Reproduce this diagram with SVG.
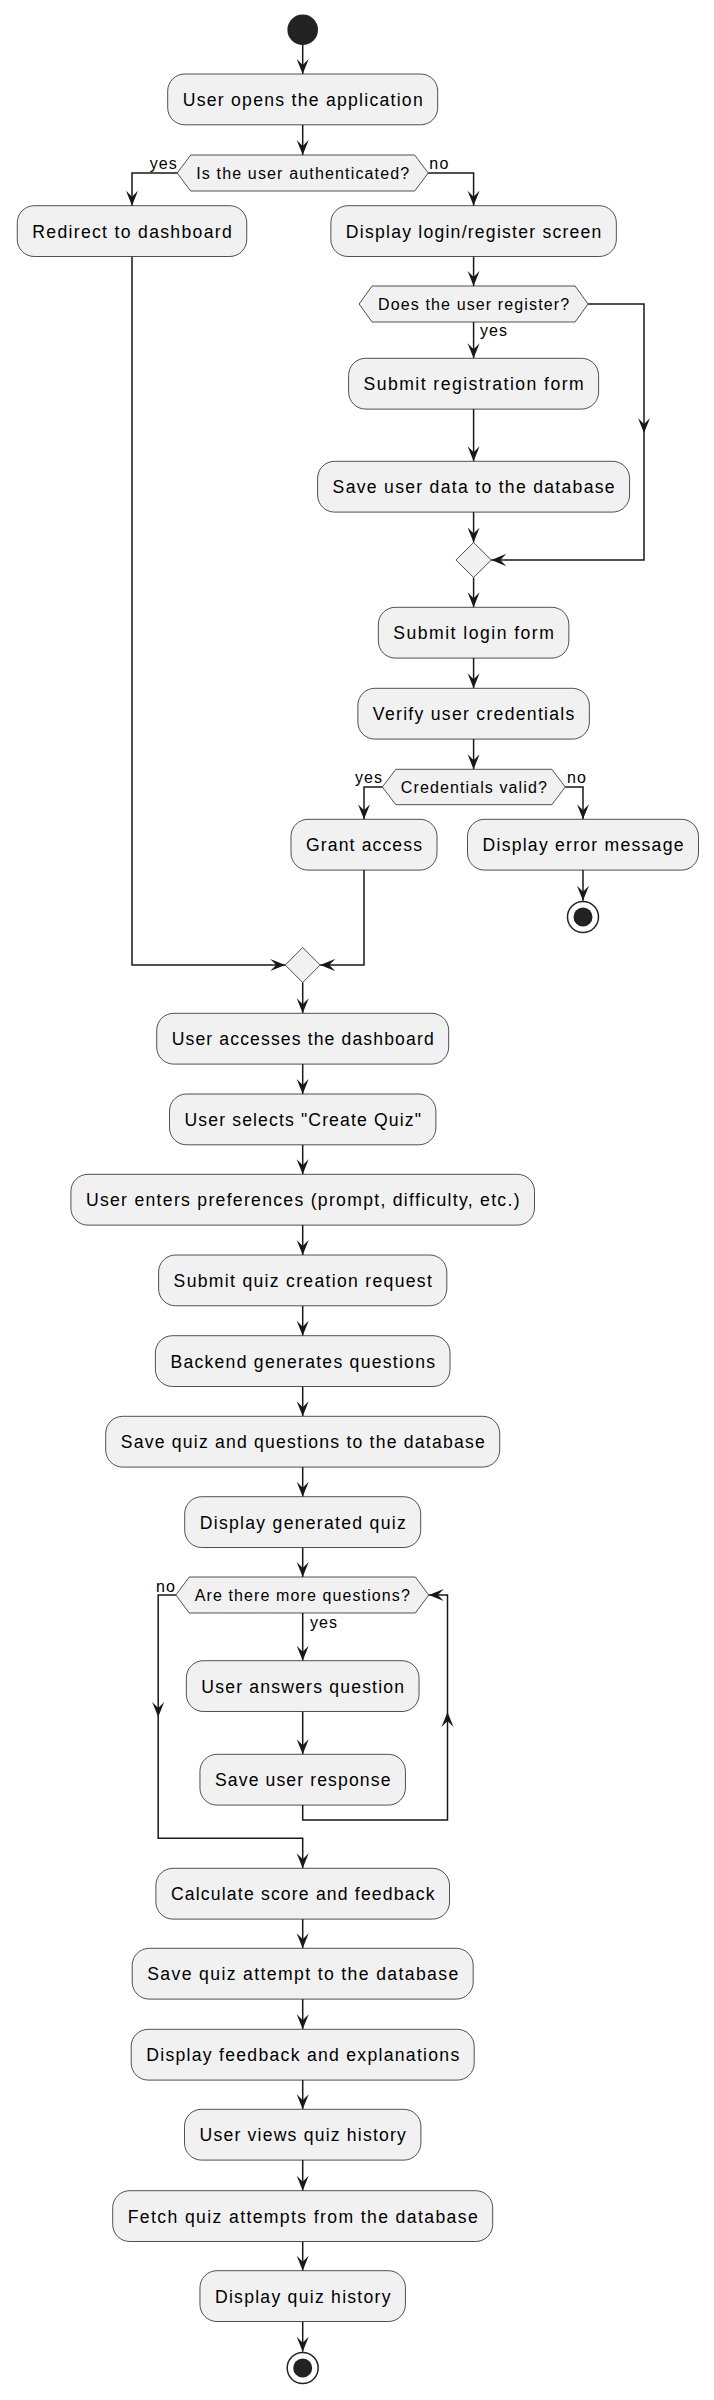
<svg xmlns="http://www.w3.org/2000/svg" width="714" height="2400" viewBox="0 0 714 2400">
<style>
.box{fill:#F1F1F1;stroke:#181818;stroke-width:0.75}
.hex{fill:#F1F1F1;stroke:#181818;stroke-width:0.75}
.t{font-family:"Liberation Sans",Arial,sans-serif;font-size:17.6px;fill:#000;text-anchor:middle}
.dt{font-family:"Liberation Sans",Arial,sans-serif;font-size:16px;fill:#000;text-anchor:middle}
.lb{font-family:"Liberation Sans",Arial,sans-serif;font-size:16px;fill:#000}
.e{fill:none;stroke:#181818;stroke-width:1.5}
.ah{fill:#181818}
</style>
<defs>
<marker id="arr" viewBox="0 -7 16 14" refX="15" refY="0" markerWidth="16" markerHeight="14" markerUnits="userSpaceOnUse" orient="auto">
<polygon points="0,-6 15,0 0,6 6,0" fill="#181818"/>
</marker>
</defs>
<rect width="714" height="2400" fill="#FFFFFF"/>

<g id="connectors">
<path class="e" d="M302.7,45 V74" marker-end="url(#arr)"/>
<path class="e" d="M302.7,125 V155" marker-end="url(#arr)"/>
<path class="e" d="M177.2,173 H132 V205.7" marker-end="url(#arr)"/>
<path class="e" d="M428.2,173 H473.6 V205.7" marker-end="url(#arr)"/>
<path class="e" d="M473.6,256.5 V286" marker-end="url(#arr)"/>
<path class="e" d="M473.6,322 V358.3" marker-end="url(#arr)"/>
<path class="e" d="M588.1,304 H644 V560 H491.3" marker-end="url(#arr)"/>
<polygon class="ah" points="638,418 644,433 650,418 644,424"/>
<path class="e" d="M473.6,409.1 V461.3" marker-end="url(#arr)"/>
<path class="e" d="M473.6,512.1 V542.5" marker-end="url(#arr)"/>
<path class="e" d="M473.6,577.5 V607.3" marker-end="url(#arr)"/>
<path class="e" d="M473.6,658.1 V688.3" marker-end="url(#arr)"/>
<path class="e" d="M473.6,739.1 V769.3" marker-end="url(#arr)"/>
<path class="e" d="M382.3,787 H364 V819.3" marker-end="url(#arr)"/>
<path class="e" d="M565.3,787 H583 V819.3" marker-end="url(#arr)"/>
<path class="e" d="M583,870.1 V900.7" marker-end="url(#arr)"/>
<path class="e" d="M364,870.1 V965 H320.2" marker-end="url(#arr)"/>
<path class="e" d="M132,256.5 V965 H285.2" marker-end="url(#arr)"/>
<path class="e" d="M302.7,982.5 V1013.3" marker-end="url(#arr)"/>
<path class="e" d="M302.7,1064.1 V1094" marker-end="url(#arr)"/>
<path class="e" d="M302.7,1144.8 V1174.3" marker-end="url(#arr)"/>
<path class="e" d="M302.7,1225.1 V1255" marker-end="url(#arr)"/>
<path class="e" d="M302.7,1305.8 V1335.7" marker-end="url(#arr)"/>
<path class="e" d="M302.7,1386.5 V1416.3" marker-end="url(#arr)"/>
<path class="e" d="M302.7,1467.1 V1496.7" marker-end="url(#arr)"/>
<path class="e" d="M302.7,1547.5 V1577" marker-end="url(#arr)"/>
<path class="e" d="M302.7,1613 V1660.7" marker-end="url(#arr)"/>
<path class="e" d="M302.7,1711.5 V1754.3" marker-end="url(#arr)"/>
<path class="e" d="M302.7,1805.1 V1820 H447.5 V1595 H428.8" marker-end="url(#arr)"/>
<polygon class="ah" points="441.5,1727 447.5,1712 453.5,1727 447.5,1721"/>
<path class="e" d="M175.8,1595 H158.2 V1838.3 H302.7 V1868.3" marker-end="url(#arr)"/>
<polygon class="ah" points="152.2,1702 158.2,1717 164.2,1702 158.2,1708"/>
<path class="e" d="M302.7,1919.1 V1948.3" marker-end="url(#arr)"/>
<path class="e" d="M302.7,1999.1 V2029.3" marker-end="url(#arr)"/>
<path class="e" d="M302.7,2080.1 V2109.3" marker-end="url(#arr)"/>
<path class="e" d="M302.7,2160.1 V2190.7" marker-end="url(#arr)"/>
<path class="e" d="M302.7,2241.5 V2270.7" marker-end="url(#arr)"/>
<path class="e" d="M302.7,2321.5 V2351.7" marker-end="url(#arr)"/>
<text class="lb" x="176.7" y="169.3" text-anchor="end" textLength="27" lengthAdjust="spacing">yes</text>
<text class="lb" x="429.3" y="169.3" textLength="19" lengthAdjust="spacing">no</text>
<text class="lb" x="480" y="336" textLength="27" lengthAdjust="spacing">yes</text>
<text class="lb" x="382" y="782.7" text-anchor="end" textLength="27" lengthAdjust="spacing">yes</text>
<text class="lb" x="567" y="782.7" textLength="19" lengthAdjust="spacing">no</text>
<text class="lb" x="175" y="1591.5" text-anchor="end" textLength="19" lengthAdjust="spacing">no</text>
<text class="lb" x="310" y="1628" textLength="27" lengthAdjust="spacing">yes</text>
</g>

<g id="start"><circle cx="302.7" cy="29.7" r="15.3" fill="#222222"/></g>

<g id="n1"><rect class="box" x="167.7" y="74" width="270" height="50.8" rx="17"/><text class="t" x="302.7" y="105.8" textLength="240" lengthAdjust="spacing">User opens the application</text></g>

<g id="d1"><polygon class="hex" points="177.2,173 190.7,155 414.7,155 428.2,173 414.7,191 190.7,191"/><text class="dt" x="302.7" y="178.8" textLength="213" lengthAdjust="spacing">Is the user authenticated?</text></g>

<g id="n2"><rect class="box" x="17.25" y="205.7" width="229.5" height="50.8" rx="17"/><text class="t" x="132" y="237.5" textLength="199.5" lengthAdjust="spacing">Redirect to dashboard</text></g>

<g id="n3"><rect class="box" x="330.85" y="205.7" width="285.5" height="50.8" rx="17"/><text class="t" x="473.6" y="237.5" textLength="255.5" lengthAdjust="spacing">Display login/register screen</text></g>

<g id="d2"><polygon class="hex" points="359.1,304 372.1,286 575.1,286 588.1,304 575.1,322 372.1,322"/><text class="dt" x="473.6" y="309.8" textLength="191" lengthAdjust="spacing">Does the user register?</text></g>

<g id="n4"><rect class="box" x="348.6" y="358.3" width="250" height="50.8" rx="17"/><text class="t" x="473.6" y="390.1" textLength="220" lengthAdjust="spacing">Submit registration form</text></g>

<g id="n5"><rect class="box" x="317.6" y="461.3" width="312" height="50.8" rx="17"/><text class="t" x="473.6" y="493.1" textLength="282" lengthAdjust="spacing">Save user data to the database</text></g>

<g id="m1"><polygon class="hex" points="473.6,542.5 491.3,560 473.6,577.5 455.9,560"/></g>

<g id="n6"><rect class="box" x="378.35" y="607.3" width="190.5" height="50.8" rx="17"/><text class="t" x="473.6" y="639.1" textLength="160.5" lengthAdjust="spacing">Submit login form</text></g>

<g id="n7"><rect class="box" x="357.85" y="688.3" width="231.5" height="50.8" rx="17"/><text class="t" x="473.6" y="720.1" textLength="201.5" lengthAdjust="spacing">Verify user credentials</text></g>

<g id="d3"><polygon class="hex" points="382.3,787 395.8,769.3 551.8,769.3 565.3,787 551.8,804.7 395.8,804.7"/><text class="dt" x="473.8" y="792.8" textLength="146" lengthAdjust="spacing">Credentials valid?</text></g>

<g id="n8"><rect class="box" x="291" y="819.3" width="146" height="50.8" rx="17"/><text class="t" x="364" y="851.1" textLength="116" lengthAdjust="spacing">Grant access</text></g>

<g id="n9"><rect class="box" x="467.5" y="819.3" width="231" height="50.8" rx="17"/><text class="t" x="583" y="851.1" textLength="201" lengthAdjust="spacing">Display error message</text></g>

<g id="end1"><circle cx="583" cy="917" r="15.5" fill="#FFFFFF" stroke="#222222" stroke-width="1.5"/><circle cx="583" cy="917" r="9.5" fill="#222222"/></g>

<g id="m2"><polygon class="hex" points="302.7,947.5 320.2,965 302.7,982.5 285.2,965"/></g>

<g id="n10"><rect class="box" x="156.7" y="1013.3" width="292" height="50.8" rx="17"/><text class="t" x="302.7" y="1045.1" textLength="262" lengthAdjust="spacing">User accesses the dashboard</text></g>

<g id="n11"><rect class="box" x="169.5" y="1094" width="266.4" height="50.8" rx="17"/><text class="t" x="302.7" y="1125.8" textLength="236.4" lengthAdjust="spacing">User selects "Create Quiz"</text></g>

<g id="n12"><rect class="box" x="70.9" y="1174.3" width="463.6" height="50.8" rx="17"/><text class="t" x="302.7" y="1206.1" textLength="433.6" lengthAdjust="spacing">User enters preferences (prompt, difficulty, etc.)</text></g>

<g id="n13"><rect class="box" x="158.6" y="1255" width="288.2" height="50.8" rx="17"/><text class="t" x="302.7" y="1286.8" textLength="258.2" lengthAdjust="spacing">Submit quiz creation request</text></g>

<g id="n14"><rect class="box" x="155.4" y="1335.7" width="294.6" height="50.8" rx="17"/><text class="t" x="302.7" y="1367.5" textLength="264.6" lengthAdjust="spacing">Backend generates questions</text></g>

<g id="n15"><rect class="box" x="105.7" y="1416.3" width="394" height="50.8" rx="17"/><text class="t" x="302.7" y="1448.1" textLength="364" lengthAdjust="spacing">Save quiz and questions to the database</text></g>

<g id="n16"><rect class="box" x="184.7" y="1496.7" width="236" height="50.8" rx="17"/><text class="t" x="302.7" y="1528.5" textLength="206" lengthAdjust="spacing">Display generated quiz</text></g>

<g id="d4"><polygon class="hex" points="175.8,1595 189.3,1577 415.3,1577 428.8,1595 415.3,1613 189.3,1613"/><text class="dt" x="302.3" y="1600.8" textLength="215" lengthAdjust="spacing">Are there more questions?</text></g>

<g id="n17"><rect class="box" x="186.35" y="1660.7" width="232.7" height="50.8" rx="17"/><text class="t" x="302.7" y="1692.5" textLength="202.7" lengthAdjust="spacing">User answers question</text></g>

<g id="n18"><rect class="box" x="199.95" y="1754.3" width="205.5" height="50.8" rx="17"/><text class="t" x="302.7" y="1786.1" textLength="175.5" lengthAdjust="spacing">Save user response</text></g>

<g id="n19"><rect class="box" x="155.9" y="1868.3" width="293.6" height="50.8" rx="17"/><text class="t" x="302.7" y="1900.1" textLength="263.6" lengthAdjust="spacing">Calculate score and feedback</text></g>

<g id="n20"><rect class="box" x="132.2" y="1948.3" width="341" height="50.8" rx="17"/><text class="t" x="302.7" y="1980.1" textLength="311" lengthAdjust="spacing">Save quiz attempt to the database</text></g>

<g id="n21"><rect class="box" x="131.2" y="2029.3" width="343" height="50.8" rx="17"/><text class="t" x="302.7" y="2061.1" textLength="313" lengthAdjust="spacing">Display feedback and explanations</text></g>

<g id="n22"><rect class="box" x="184.5" y="2109.3" width="236.4" height="50.8" rx="17"/><text class="t" x="302.7" y="2141.1" textLength="206.4" lengthAdjust="spacing">User views quiz history</text></g>

<g id="n23"><rect class="box" x="112.7" y="2190.7" width="380" height="50.8" rx="17"/><text class="t" x="302.7" y="2222.5" textLength="350" lengthAdjust="spacing">Fetch quiz attempts from the database</text></g>

<g id="n24"><rect class="box" x="199.95" y="2270.7" width="205.5" height="50.8" rx="17"/><text class="t" x="302.7" y="2302.5" textLength="175.5" lengthAdjust="spacing">Display quiz history</text></g>

<g id="end2"><circle cx="302.7" cy="2368" r="15.5" fill="#FFFFFF" stroke="#222222" stroke-width="1.5"/><circle cx="302.7" cy="2368" r="9.5" fill="#222222"/></g>
</svg>
